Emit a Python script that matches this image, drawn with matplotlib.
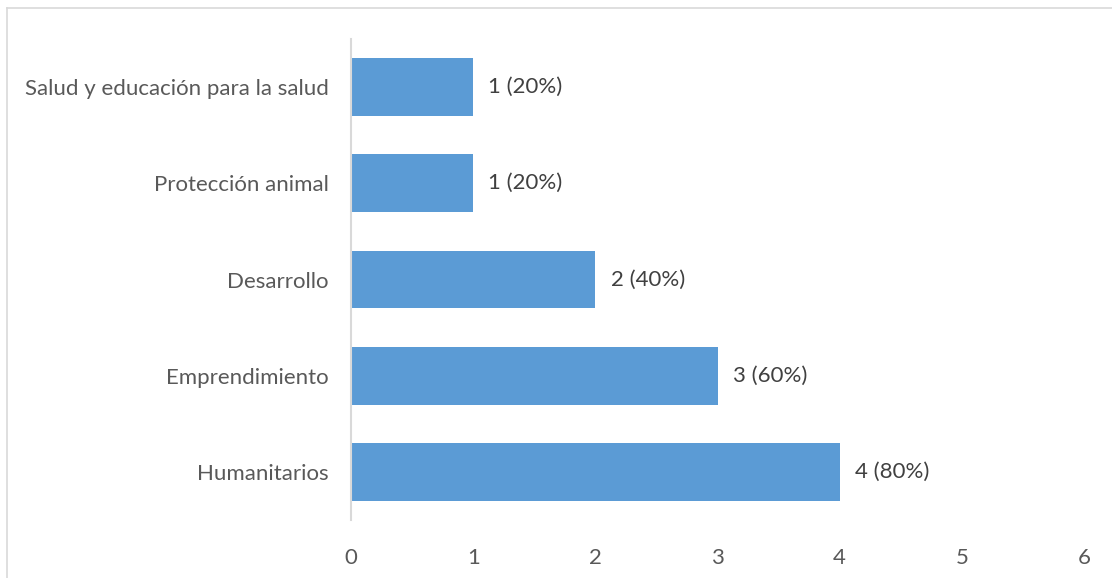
import matplotlib
matplotlib.use("Agg")
import matplotlib.pyplot as plt
from matplotlib.lines import Line2D

categories = ["Humanitarios", "Emprendimiento", "Desarrollo", "Protección animal",
              "Salud y educación para la salud"]
values = [4, 3, 2, 1, 1]
labels = ["4 (80%)", "3 (60%)", "2 (40%)", "1 (20%)", "1 (20%)"]
xticks = [0, 1, 2, 3, 4, 5, 6]

plt.rcParams['font.family'] = ['Lato', 'DejaVu Sans']
FS = 16

fig = plt.figure(figsize=(11.12, 5.78), dpi=100)
ax = fig.add_axes([351/1112, 1-520/578, 733/1112, 481/578])

y = list(range(len(categories)))
ax.barh(y, values, height=0.6, color="#5b9bd5")
for yi, v, lab in zip(y, values, labels):
    ax.annotate(lab, (v, yi), xytext=(11, 0), textcoords="offset points",
                va="center", ha="left", fontsize=FS, color="#404040")

ax.set_xlim(0, 6)
ax.set_ylim(-0.5, len(categories) - 0.5)
ax.set_xticks(xticks)
ax.set_yticks(y)
ax.set_yticklabels(categories)
ax.tick_params(axis="both", length=0, labelsize=FS, labelcolor="#595959")
ax.tick_params(axis="x", pad=20)
ax.tick_params(axis="y", pad=16)
for s in ["top", "right", "bottom"]:
    ax.spines[s].set_visible(False)
ax.spines["left"].set_color("#d9d9d9")
ax.spines["left"].set_linewidth(1.5)

# chart border
fig.add_artist(Line2D([7/1112, 1], [1-8/578, 1-8/578], transform=fig.transFigure,
                      color="#d9d9d9", lw=1.2))
fig.add_artist(Line2D([7/1112, 7/1112], [0, 1-8/578], transform=fig.transFigure,
                      color="#d9d9d9", lw=1.2))

fig.savefig("out.png", dpi=100)
